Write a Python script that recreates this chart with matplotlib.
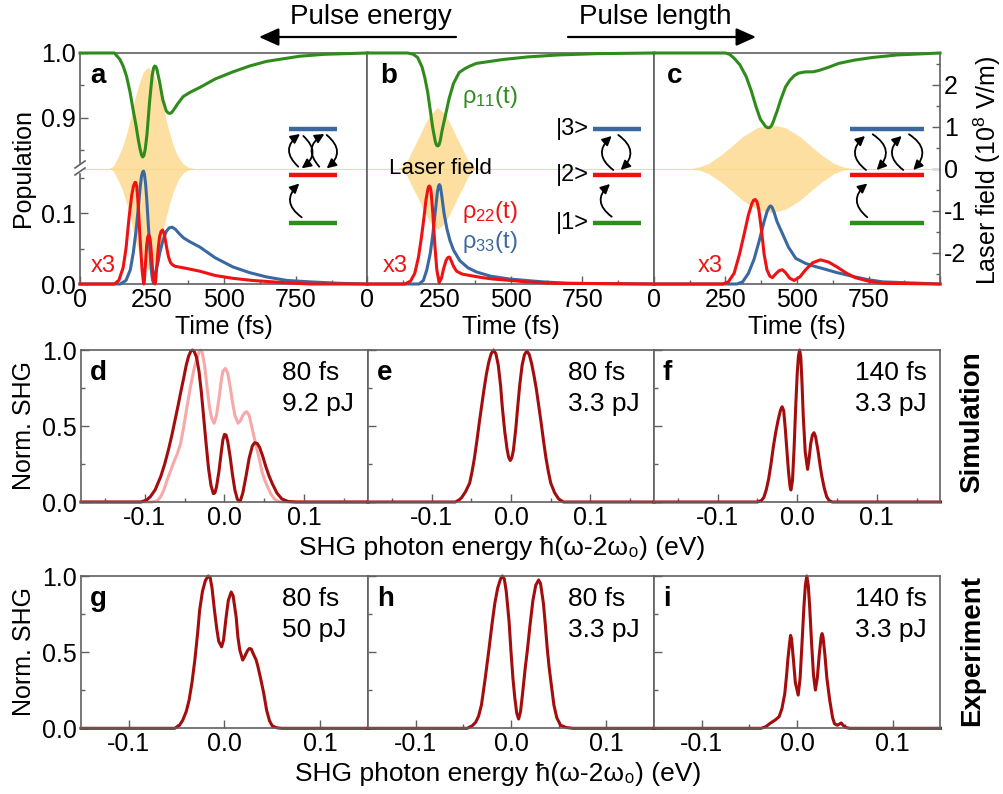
import numpy as np
import matplotlib
matplotlib.use("Agg")
import matplotlib.pyplot as plt
from matplotlib.patches import FancyArrowPatch, Rectangle
from matplotlib.lines import Line2D

plt.rcParams['font.family'] = ['Liberation Sans', 'DejaVu Sans']
plt.rcParams['mathtext.fontset'] = 'custom'
plt.rcParams['mathtext.rm'] = 'Liberation Sans'
plt.rcParams['mathtext.it'] = 'Liberation Sans:italic'
plt.rcParams['mathtext.bf'] = 'Liberation Sans:bold'
plt.rcParams['axes.unicode_minus'] = False

# ---------------- top row: populations and laser field ----------------
# panel a (80 fs, 9.2 pJ)
env_t_a = [0, 100, 115, 132, 147, 162, 176, 189, 205, 220, 237, 254, 270, 285, 298, 312, 327, 342, 360, 380, 400, 1000]
env_a = [0, 0, 0.05, 0.27, 0.5, 0.83, 1.2, 1.62, 2.0, 2.3, 2.41, 2.3, 2.0, 1.62, 1.2, 0.83, 0.5, 0.27, 0.1, 0.02, 0, 0]
g_t_a = [0, 120, 139, 150, 162, 174, 185, 195, 203, 209, 214, 218, 222, 227, 233, 242, 251, 256, 260, 264,
         268, 277, 288, 300, 306, 312, 318, 325, 340, 359, 385, 417, 470, 532, 590, 648, 705, 764, 850, 1000]
g_a = [1.0, 1.0, 0.99, 0.98, 0.964, 0.94, 0.912, 0.888, 0.866, 0.852, 0.843, 0.840, 0.842, 0.852, 0.875, 0.925,
       0.965, 0.977, 0.980, 0.979, 0.974, 0.955, 0.928, 0.911, 0.908, 0.907, 0.908, 0.912, 0.922, 0.933,
       0.940, 0.947, 0.96, 0.971, 0.98, 0.987, 0.991, 0.995, 0.998, 1.0]
r_t_a = [0, 120, 135, 150, 160, 171, 180, 186, 191, 194, 197, 201, 206, 211, 216, 220, 222, 224, 228, 232,
         236, 240, 244, 248, 252, 256, 259, 261, 263, 267, 272, 277, 282, 287, 292, 297, 302, 308, 315, 322,
         330, 370, 417, 470, 532, 600, 705, 800, 1000]
r_a = [0, 0, 0.005, 0.023, 0.05, 0.095, 0.125, 0.138, 0.143, 0.143, 0.138, 0.12, 0.085, 0.05, 0.02, 0.005, 0.0,
       0.005, 0.03, 0.055, 0.067, 0.069, 0.063, 0.045, 0.022, 0.006, 0.001, 0.0, 0.004, 0.025, 0.05, 0.067, 0.074,
       0.076, 0.072, 0.062, 0.05, 0.038, 0.03, 0.027, 0.025, 0.022, 0.018, 0.012, 0.008, 0.005, 0.002, 0, 0]
b_t_a = [0, 140, 160, 175, 185, 195, 203, 209, 214, 218, 221, 224, 228, 232, 236, 240, 244, 248, 251, 254,
         258, 262, 266, 270, 278, 289, 300, 310, 321, 332, 345, 360, 380, 417, 470, 532, 590, 648, 720, 800, 900, 1000]
b_a = [0, 0, 0.005, 0.02, 0.043, 0.075, 0.108, 0.135, 0.152, 0.158, 0.159, 0.155, 0.142, 0.12, 0.094, 0.068,
       0.042, 0.02, 0.009, 0.004, 0.008, 0.015, 0.022, 0.028, 0.045, 0.062, 0.074, 0.079, 0.080, 0.077, 0.071,
       0.065, 0.06, 0.052, 0.037, 0.024, 0.016, 0.010, 0.005, 0.003, 0.001, 0]

# panel b (80 fs, 3.3 pJ)
env_t_b = [0, 105, 125, 140, 155, 176, 200, 220, 245, 270, 290, 314, 335, 350, 365, 385, 1000]
env_b = [0, 0, 0.06, 0.2, 0.42, 0.7, 1.05, 1.3, 1.45, 1.3, 1.05, 0.7, 0.42, 0.2, 0.06, 0, 0]
g_t_b = [0, 140, 160, 175, 190, 200, 210, 219, 228, 237, 241, 245, 249, 254, 260, 271, 285, 300, 320, 340, 358,
         380, 473, 560, 667, 800, 1000]
g_b = [1.0, 1.0, 0.998, 0.993, 0.979, 0.962, 0.94, 0.912, 0.884, 0.863, 0.858, 0.857, 0.858, 0.865, 0.880,
       0.902, 0.930, 0.953, 0.970, 0.976, 0.980, 0.984, 0.990, 0.994, 0.997, 0.999, 1.0]
r_t_b = [0, 130, 150, 165, 178, 188, 196, 204, 210, 213, 216, 219, 222, 228, 235, 242, 250, 258, 266, 274,
         280, 286, 292, 300, 311, 330, 357, 400, 438, 500, 554, 650, 1000]
r_b = [0, 0, 0.004, 0.015, 0.038, 0.065, 0.09, 0.118, 0.132, 0.137, 0.138, 0.136, 0.13, 0.1, 0.055, 0.02, 0.002,
       0.008, 0.022, 0.033, 0.037, 0.038, 0.033, 0.025, 0.018, 0.014, 0.012, 0.009, 0.007, 0.005, 0.003, 0.001, 0]
b_t_b = [0, 180, 195, 207, 219, 228, 236, 244, 248, 251, 254, 258, 267, 277, 288, 300, 322, 350, 380, 430,
         496, 612, 700, 1000]
b_b = [0, 0, 0.005, 0.02, 0.043, 0.07, 0.10, 0.13, 0.138, 0.140, 0.138, 0.128, 0.10, 0.078, 0.061, 0.048, 0.033,
       0.023, 0.017, 0.011, 0.007, 0.003, 0.001, 0]

# panel c (140 fs, 3.3 pJ)
env_t_c = [0, 130, 160, 190, 230, 268, 310, 360, 410, 460, 510, 552, 590, 630, 660, 690, 1000]
env_c = [0, 0, 0.04, 0.12, 0.3, 0.51, 0.76, 0.97, 1.05, 0.97, 0.76, 0.51, 0.3, 0.12, 0.04, 0, 0]
g_t_c = [0, 250, 264, 280, 300, 322, 340, 357, 372, 390, 397, 403, 409, 415, 430, 443, 460, 475, 490, 505, 530,
         555, 576, 610, 646, 700, 762, 850, 1000]
g_c = [1.0, 1.0, 0.998, 0.992, 0.982, 0.964, 0.942, 0.917, 0.898, 0.887, 0.885, 0.885, 0.887, 0.892, 0.91, 0.928,
       0.948, 0.958, 0.965, 0.969, 0.971, 0.971, 0.973, 0.978, 0.984, 0.989, 0.993, 0.997, 1.0]
r_t_c = [0, 240, 260, 280, 299, 315, 330, 342, 348, 354, 360, 366, 372, 378, 385, 395, 405, 414, 425, 438,
         449, 460, 475, 490, 510, 530, 555, 582, 610, 640, 670, 703, 750, 800, 1000]
r_c = [0, 0, 0.003, 0.015, 0.042, 0.07, 0.097, 0.113, 0.118, 0.119, 0.116, 0.106, 0.088, 0.068, 0.042, 0.02,
       0.011, 0.009, 0.014, 0.019, 0.020, 0.016, 0.008, 0.005, 0.01, 0.02, 0.03, 0.034, 0.031, 0.024, 0.016,
       0.009, 0.004, 0.001, 0]
b_t_c = [0, 290, 310, 330, 350, 368, 385, 396, 404, 408, 413, 420, 430, 449, 470, 496, 530, 560, 588, 640, 703,
         750, 800, 1000]
b_c = [0, 0, 0.003, 0.015, 0.035, 0.061, 0.088, 0.103, 0.109, 0.110, 0.108, 0.101, 0.088, 0.071, 0.052, 0.036,
       0.029, 0.025, 0.022, 0.016, 0.010, 0.006, 0.003, 0]

# ---------------- middle row: simulated SHG spectra ----------------
e_d = [-0.18, -0.105, -0.098, -0.093, -0.087, -0.080, -0.075, -0.070, -0.066, -0.062, -0.058, -0.055, -0.051,
       -0.048, -0.045, -0.042, -0.040, -0.038, -0.035, -0.032, -0.029, -0.026, -0.023, -0.020, -0.017, -0.014,
       -0.012, -0.010, -0.007, -0.004, -0.002, 0.000, 0.002, 0.004, 0.007, 0.010, 0.013, 0.016, 0.018, 0.020,
       0.023, 0.027, 0.031, 0.035, 0.038, 0.041, 0.044, 0.048, 0.052, 0.056, 0.060, 0.066, 0.072, 0.080, 0.090,
       0.18]
s_d = [0, 0, 0.012, 0.035, 0.08, 0.167, 0.25, 0.35, 0.44, 0.54, 0.64, 0.72, 0.82, 0.9, 0.96, 0.995, 1.0, 0.99,
       0.95, 0.86, 0.72, 0.55, 0.38, 0.22, 0.11, 0.055, 0.06, 0.1, 0.2, 0.33, 0.41, 0.445, 0.44, 0.4, 0.3, 0.18,
       0.08, 0.02, 0.005, 0.01, 0.06, 0.17, 0.29, 0.37, 0.39, 0.385, 0.36, 0.3, 0.23, 0.17, 0.12, 0.057, 0.02,
       0.003, 0, 0]
e_d_ref = [-0.18, -0.090, -0.084, -0.080, -0.076, -0.072, -0.068, -0.063, -0.059, -0.055, -0.051, -0.047, -0.043,
           -0.0385, -0.035, -0.032, -0.030, -0.028, -0.025, -0.022, -0.019, -0.016, -0.013, -0.010, -0.007, -0.004,
           -0.002, 0.001, 0.004, 0.007, 0.0096, 0.013, 0.017, 0.020, 0.023, 0.026, 0.028, 0.031, 0.034, 0.037,
           0.040, 0.043, 0.047, 0.050, 0.054, 0.058, 0.062, 0.066, 0.070, 0.18]
s_d_ref = [0, 0, 0.01, 0.035, 0.08, 0.145, 0.2, 0.27, 0.32, 0.386, 0.5, 0.627, 0.75, 0.868, 0.94, 0.985, 1.0,
           0.985, 0.9, 0.76, 0.63, 0.55, 0.518, 0.57, 0.68, 0.8, 0.86, 0.879, 0.85, 0.76, 0.671, 0.57, 0.518, 0.535,
           0.57, 0.59, 0.594, 0.57, 0.5, 0.43, 0.36, 0.298, 0.2, 0.15, 0.10, 0.055, 0.024, 0.008, 0, 0]
e_e = [-0.18, -0.070, -0.065, -0.062, -0.057, -0.052, -0.049, -0.046, -0.043, -0.040, -0.037, -0.034, -0.031,
       -0.028, -0.025, -0.022, -0.019, -0.016, -0.013, -0.011, -0.008, -0.005, -0.003, -0.001, 0.001, 0.003,
       0.006, 0.008, 0.011, 0.014, 0.017, 0.020, 0.023, 0.026, 0.029, 0.032, 0.035, 0.038, 0.041, 0.044, 0.047,
       0.050, 0.055, 0.060, 0.066, 0.18]
s_e = [0, 0, 0.015, 0.03, 0.07, 0.125, 0.2, 0.29, 0.4, 0.519, 0.63, 0.74, 0.84, 0.92, 0.975, 1.0, 0.975, 0.9,
       0.76, 0.628, 0.47, 0.35, 0.295, 0.273, 0.29, 0.34, 0.48, 0.6, 0.77, 0.9, 0.97, 0.993, 0.97, 0.91, 0.83,
       0.74, 0.63, 0.519, 0.4, 0.29, 0.2, 0.125, 0.06, 0.02, 0, 0]
e_f = [-0.18, -0.050, -0.045, -0.042, -0.039, -0.036, -0.033, -0.030, -0.027, -0.024, -0.021, -0.019, -0.017,
       -0.015, -0.013, -0.011, -0.009, -0.008, -0.006, -0.004, -0.002, 0.000, 0.0015, 0.003, 0.0045, 0.006,
       0.0076, 0.010, 0.013, 0.015, 0.017, 0.019, 0.021, 0.023, 0.026, 0.029, 0.031, 0.034, 0.037, 0.040,
       0.044, 0.18]
s_f = [0, 0, 0.01, 0.03, 0.079, 0.15, 0.25, 0.364, 0.46, 0.54, 0.605, 0.627, 0.6, 0.48, 0.34, 0.2, 0.1, 0.079,
       0.14, 0.35, 0.62, 0.85, 0.96, 1.0, 0.95, 0.78, 0.56, 0.33, 0.215, 0.29, 0.386, 0.44, 0.456, 0.43, 0.34,
       0.23, 0.167, 0.09, 0.035, 0.01, 0, 0]

# ---------------- bottom row: measured SHG spectra ----------------
e_g = [-0.15, -0.052, -0.047, -0.0436, -0.040, -0.037, -0.034, -0.031, -0.028, -0.026, -0.023, -0.020, -0.017,
       -0.015, -0.013, -0.0105, -0.008, -0.006, -0.003, -0.001, 0.0017, 0.004, 0.007, 0.009, 0.0122, 0.014,
       0.016, 0.019, 0.021, 0.024, 0.026, 0.028, 0.030, 0.033, 0.035, 0.038, 0.041, 0.044, 0.047, 0.050, 0.055,
       0.060, 0.15]
s_g = [0, 0, 0.02, 0.054, 0.11, 0.185, 0.3, 0.448, 0.63, 0.775, 0.9, 0.97, 1.0, 0.99, 0.92, 0.775, 0.65, 0.57,
       0.535, 0.58, 0.73, 0.84, 0.895, 0.87, 0.73, 0.6, 0.513, 0.448, 0.47, 0.51, 0.524, 0.52, 0.49, 0.45, 0.404,
       0.32, 0.23, 0.12, 0.05, 0.015, 0.003, 0, 0]
e_h = [-0.15, -0.046, -0.041, -0.037, -0.034, -0.031, -0.027, -0.023, -0.020, -0.017, -0.014, -0.011, -0.009,
       -0.007, -0.005, -0.002, 0.0, 0.002, 0.004, 0.006, 0.008, 0.010, 0.012, 0.015, 0.017, 0.020, 0.023, 0.026,
       0.029, 0.031, 0.034, 0.036, 0.038, 0.040, 0.042, 0.045, 0.048, 0.052, 0.058, 0.065, 0.15]
s_h = [0, 0, 0.015, 0.04, 0.08, 0.153, 0.33, 0.525, 0.68, 0.82, 0.92, 0.98, 1.0, 0.98, 0.9, 0.7, 0.503, 0.33,
       0.2, 0.1, 0.061, 0.11, 0.22, 0.4, 0.503, 0.68, 0.84, 0.94, 0.974, 0.95, 0.82, 0.68, 0.525, 0.4, 0.3, 0.153,
       0.07, 0.02, 0.005, 0, 0]
e_i = [-0.15, -0.038, -0.033, -0.029, -0.023, -0.019, -0.016, -0.013, -0.011, -0.0099, -0.008, -0.007, -0.006,
       -0.004, -0.002, 0.001, 0.003, 0.005, 0.007, 0.0085, 0.010, 0.0115, 0.013, 0.015, 0.017, 0.019, 0.021,
       0.023, 0.025, 0.026, 0.027, 0.029, 0.031, 0.034, 0.037, 0.039, 0.042, 0.046, 0.048, 0.051, 0.055, 0.15]
s_i = [0, 0, 0.01, 0.03, 0.055, 0.076, 0.13, 0.23, 0.36, 0.448, 0.56, 0.61, 0.59, 0.45, 0.3, 0.218, 0.33, 0.56,
       0.8, 0.94, 1.0, 0.94, 0.8, 0.56, 0.35, 0.251, 0.33, 0.48, 0.6, 0.622, 0.6, 0.48, 0.33, 0.185, 0.07, 0.03,
       0.02, 0.035, 0.02, 0.005, 0, 0]

top_letters = ['a', 'b', 'c']
mid_letters = ['d', 'e', 'f']
bot_letters = ['g', 'h', 'i']
mid_info = [('80 fs', '9.2 pJ'), ('80 fs', '3.3 pJ'), ('140 fs', '3.3 pJ')]
bot_info = [('80 fs', '50 pJ'), ('80 fs', '3.3 pJ'), ('140 fs', '3.3 pJ')]

GREEN = '#2f8c1c'
RED = '#f01212'
BLUE = '#3a69a2'
FIELD = '#fcd88a'
DARK = '#a30d0d'
PINK = '#f7a9a9'
FRAME = '#606060'

W, H = 1004, 794


def frect(x0, x1, y0, y1):
    return [x0 / W, 1 - y1 / H, (x1 - x0) / W, (y1 - y0) / H]


def fpt(x, y):
    return (x / W, 1 - y / H)


def frame(ax):
    for s in ax.spines.values():
        s.set_color(FRAME)
        s.set_linewidth(1.2)


def ticks(ax):
    ax.tick_params(which='both', direction='in', color=FRAME, width=1, labelsize=18, pad=3)
    ax.tick_params(which='major', length=6)
    ax.tick_params(which='minor', length=3)


def bare(ax):
    ax.patch.set_visible(False)
    for s in ax.spines.values():
        s.set_visible(False)
    ax.tick_params(which='both', bottom=False, labelbottom=False, left=False, labelleft=False)


def arc(p0, p1, rad=-0.6):
    a = FancyArrowPatch(fpt(*p0), fpt(*p1), transform=fig.transFigure,
                        connectionstyle=f"arc3,rad={rad}",
                        arrowstyle='-|>,head_length=1.1,head_width=0.55', mutation_scale=5,
                        lw=1.3, color='black', shrinkA=0, shrinkB=0)
    fig.add_artist(a)


def level(x0, x1, y, color):
    fig.add_artist(Line2D([x0 / W, x1 / W], [1 - y / H, 1 - y / H], transform=fig.transFigure,
                          color=color, lw=3.2, solid_capstyle='butt'))


fig = plt.figure(figsize=(10.04, 7.94), dpi=100)

top_x = [(80, 367.5), (367.5, 654), (654, 940)]
top_env = [(env_t_a, env_a), (env_t_b, env_b), (env_t_c, env_c)]
top_green = [(g_t_a, g_a), (g_t_b, g_b), (g_t_c, g_c)]
top_red = [(r_t_a, r_a), (r_t_b, r_b), (r_t_c, r_c)]
top_blue = [(b_t_a, b_a), (b_t_b, b_b), (b_t_c, b_c)]
x3_pos = [0.037, 0.053, 0.154]

for k in range(3):
    x0, x1 = top_x[k]
    axf = fig.add_axes(frect(x0, x1, 53, 284))
    te, ev = top_env[k]
    axf.fill_between(te, -np.array(ev), ev, color=FIELD, lw=0, alpha=0.8)
    axf.axhline(0, color=FIELD, lw=0.8)
    axf.set_xlim(0, 1000)
    axf.set_ylim(-2.75, 2.75)
    frame(axf)
    ticks(axf)
    axf.set_xticks([0, 250, 500, 750, 1000])
    axf.set_xticklabels(['0', '250', '500', '750', ''])
    axf.set_xticks([125, 375, 625, 875], minor=True)
    axf.set_xlabel('Time (fs)', fontsize=18, labelpad=2)
    if k == 2:
        axf.yaxis.tick_right()
        axf.set_yticks([-2, -1, 0, 1, 2])
        axf.set_yticklabels(['-2', '-1', '0', '1', '2'])
        axf.set_yticks([-2.5, -1.5, -0.5, 0.5, 1.5, 2.5], minor=True)
        axf.tick_params(axis='y', which='both', left=False, right=True)
    else:
        axf.set_yticks([])
    axf.text(0.035 if k == 0 else 0.045, 0.87, top_letters[k], transform=axf.transAxes,
             fontsize=20, fontweight='bold', va='baseline')
    axf.text(x3_pos[k], 0.053, 'x3', transform=axf.transAxes, fontsize=17, color=RED, va='baseline')

    axt = fig.add_axes(frect(x0, x1, 53, 168))
    bare(axt)
    axt.plot(*top_green[k], color=GREEN, lw=2.2, clip_on=False)
    axt.set_xlim(0, 1000)
    axt.set_ylim(0.823, 1.0)

    axb = fig.add_axes(frect(x0, x1, 168, 284))
    bare(axb)
    axb.plot(*top_blue[k], color=BLUE, lw=2.2, clip_on=False)
    axb.plot(*top_red[k], color=RED, lw=2.2, clip_on=False)
    axb.set_xlim(0, 1000)
    axb.set_ylim(0, 0.1634)

    if k == 0:
        for a_ in (axt, axb):
            ticks(a_)
            a_.tick_params(axis='y', which='both', left=True, labelleft=True)
        axt.set_yticks([0.9, 1.0])
        axt.set_yticklabels(['0.9', '1.0'])
        axt.set_yticks([0.85, 0.95], minor=True)
        axb.set_yticks([0.0, 0.1])
        axb.set_yticklabels(['0.0', '0.1'])
        axb.set_yticks([0.05, 0.15], minor=True)
    if k == 1:
        axf.text(0.329, 0.784, 'ρ$_{11}$(t)', transform=axf.transAxes, fontsize=17, color=GREEN, va='baseline')
        axf.text(0.329, 0.286, 'ρ$_{22}$(t)', transform=axf.transAxes, fontsize=17, color=RED, va='baseline')
        axf.text(0.329, 0.156, 'ρ$_{33}$(t)', transform=axf.transAxes, fontsize=17, color=BLUE, va='baseline')
        axf.text(0.253, 0.476, 'Laser field', transform=axf.transAxes, fontsize=16, ha='center', va='baseline')

# broken-axis marks on the population axis
fig.add_artist(Rectangle(fpt(77, 172), 6 / W, 8 / H, transform=fig.transFigure, color='white', zorder=5))
for yy in (168, 175):
    fig.add_artist(Line2D([75 / W, 85 / W], [1 - yy / H, 1 - (yy - 7) / H], transform=fig.transFigure,
                          color=FRAME, lw=1.2, zorder=6))

fig.text(23 / W, 1 - 168 / H, 'Population', rotation=90, ha='center', va='center', fontsize=18)
fig.text(987 / W, 1 - 170 / H, 'Laser field (10$^8$ V/m)', rotation=90, ha='center', va='center', fontsize=18)

# level schemes
lev_y = (128.5, 175, 222.5)
for (x0, x1) in [(289, 337), (593, 641), (850, 924)]:
    level(x0, x1, lev_y[0], BLUE)
    level(x0, x1, lev_y[1], RED)
    level(x0, x1, lev_y[2], GREEN)
arc((301.7, 217.3), (299.3, 183.5))
arc((298.3, 166.7), (300, 134))
arc((303.3, 136), (301.7, 168.3))
arc((319.3, 166.7), (324.3, 134))
arc((326.7, 135), (326.7, 168.3))
arc((611.7, 216.7), (610, 184))
arc((613.3, 170), (611.7, 136))
arc((618.3, 135), (620.7, 170))
arc((867.3, 217.3), (867.3, 183.5))
arc((866, 170), (865, 136))
arc((872.7, 134.3), (876.7, 170))
arc((903.3, 170), (901.7, 136))
arc((909, 134.3), (913.3, 170))
for lab, yy in zip(['|3>', '|2>', '|1>'], lev_y):
    fig.text(589 / W, 1 - yy / H, lab, ha='right', va='center', fontsize=17)

# top arrows
fig.text(371 / W, 1 - 17 / H, 'Pulse energy', ha='center', va='center', fontsize=20)
fig.text(655 / W, 1 - 17 / H, 'Pulse length', ha='center', va='center', fontsize=20)
for p0, p1 in [((456, 37), (259, 37)), ((568, 37), (756, 37))]:
    fig.add_artist(FancyArrowPatch(fpt(*p0), fpt(*p1), transform=fig.transFigure,
                                   arrowstyle='-|>,head_length=1.0,head_width=0.45', mutation_scale=12,
                                   lw=1.6, color='black', shrinkA=0, shrinkB=0))


def spectra_row(xs, y0, y1, lim, curves, letters, info, minor):
    for k, (x0, x1) in enumerate(xs):
        ax = fig.add_axes(frect(x0, x1, y0, y1))
        for (ex, sy, col) in curves[k]:
            ax.plot(ex, sy, color=col, lw=2.2, clip_on=False)
        ax.set_xlim(-lim, lim)
        ax.set_ylim(0, 1.0)
        frame(ax)
        ticks(ax)
        ax.set_xticks([-0.1, 0.0, 0.1])
        ax.set_xticklabels(['-0.1', '0.0', '0.1'])
        ax.set_xticks(minor, minor=True)
        ax.set_yticks([0.0, 0.5, 1.0])
        ax.set_yticks([0.25, 0.75], minor=True)
        if k == 0:
            ax.set_yticklabels(['0.0', '0.5', '1.0'])
        else:
            ax.tick_params(axis='y', labelleft=False)
        ax.text(0.031, 0.80, letters[k], transform=ax.transAxes, fontsize=20, fontweight='bold', va='baseline')
        ax.text(0.70, 0.80, info[k][0], transform=ax.transAxes, fontsize=19, va='baseline')
        ax.text(0.70, 0.60, info[k][1], transform=ax.transAxes, fontsize=19, va='baseline')


row_x = [(81, 368), (368, 654), (654, 940.5)]
spectra_row(row_x, 350, 502, 0.18,
            [[(e_d_ref, s_d_ref, PINK), (e_d, s_d, DARK)], [(e_e, s_e, DARK)], [(e_f, s_f, DARK)]],
            mid_letters, mid_info, [-0.15, -0.05, 0.05, 0.15])
spectra_row(row_x, 576, 728.3, 0.15,
            [[(e_g, s_g, DARK)], [(e_h, s_h, DARK)], [(e_i, s_i, DARK)]],
            bot_letters, bot_info, [-0.05, 0.05])

xlab = 'SHG photon energy ħ(ω-2ω₀) (eV)'
fig.text(502 / W, 1 - 548 / H, xlab, ha='center', va='center', fontsize=19)
fig.text(498 / W, 1 - 774 / H, xlab, ha='center', va='center', fontsize=19)
fig.text(24 / W, 1 - 426 / H, 'Norm. SHG', rotation=90, ha='center', va='center', fontsize=18)
fig.text(24 / W, 1 - 652 / H, 'Norm. SHG', rotation=90, ha='center', va='center', fontsize=18)
fig.text(972 / W, 1 - 422 / H, 'Simulation', rotation=90, ha='center', va='center', fontsize=20, fontweight='bold')
fig.text(972 / W, 1 - 651 / H, 'Experiment', rotation=90, ha='center', va='center', fontsize=20, fontweight='bold')

fig.savefig('out.png', dpi=100)
plt.close(fig)
